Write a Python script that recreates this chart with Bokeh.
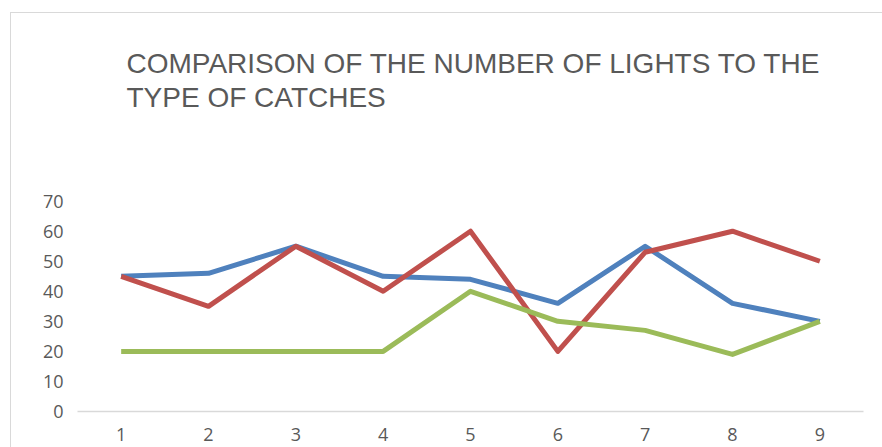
from bokeh.plotting import figure
from bokeh.models import Range1d, FixedTicker, GlobalInlineStyleSheet
from bokeh.embed import file_html
from bokeh.resources import INLINE

# ---- data ----
title_lines = ["COMPARISON OF THE NUMBER OF LIGHTS TO THE", "TYPE OF CATCHES"]
x_values = [1, 2, 3, 4, 5, 6, 7, 8, 9]
x_tick_labels = ["1", "2", "3", "4", "5", "6", "7", "8", "9"]
y_ticks = [0, 10, 20, 30, 40, 50, 60, 70]
y_tick_labels = ["0", "10", "20", "30", "40", "50", "60", "70"]
series_blue = [45, 46, 55, 45, 44, 36, 55, 36, 30]
series_red = [45, 35, 55, 40, 60, 20, 53, 60, 50]
series_green = [20, 20, 20, 20, 40, 30, 27, 19, 30]

BLUE = "#4F81BD"
RED = "#C0504D"
GREEN = "#9BBB59"
TEXT = "#595959"
AXIS = "#D9D9D9"

# the invisible frame reaches up to just under the title; the ticks stop at 70
Y_TOP = 83.2

p = figure(width=882, height=447,
           x_range=Range1d(0.5, 9.5), y_range=Range1d(0, Y_TOP),
           min_border_left=77, min_border_right=19,
           min_border_top=0, min_border_bottom=36,
           output_backend="svg", toolbar_location=None)
p.grid.visible = False
p.outline_line_color = None

# page-level: no scrollbars, faint chart-area border
p.stylesheets = [GlobalInlineStyleSheet(css=(
    "html, body { overflow: hidden; }"
    "body::after { content: ''; position: fixed; left: 10px; top: 12px;"
    " width: 2000px; height: 2000px; border: 1px solid #D9D9D9;"
    " pointer-events: none; }"))]

# title
p.title.text = "\n".join(title_lines)
p.title.align = "left"
p.title.vertical_align = "top"
p.title.offset = 49
p.title.standoff = 94
p.title.text_font = "Liberation Sans"
p.title.text_font_size = "28px"
p.title.text_font_style = "normal"
p.title.text_color = TEXT
p.title.text_line_height = 1.1

for ys, c in [(series_blue, BLUE), (series_red, RED), (series_green, GREEN)]:
    p.line(x_values, ys, line_color=c, line_width=5, line_join="round")

# x axis
xa = p.xaxis[0]
xa.ticker = FixedTicker(ticks=x_values)
xa.major_label_overrides = {v: s for v, s in zip(x_values, x_tick_labels)}
xa.axis_line_color = AXIS
xa.axis_line_width = 1.3
xa.major_tick_line_color = None
xa.minor_tick_line_color = None
xa.major_tick_out = 0
xa.minor_tick_out = 0
xa.major_label_standoff = 16
xa.major_label_text_font = "Open Sans"
xa.major_label_text_font_size = "18px"
xa.major_label_text_color = TEXT

# y axis
ya = p.yaxis[0]
ya.ticker = FixedTicker(ticks=y_ticks)
ya.major_label_overrides = {v: s for v, s in zip(y_ticks, y_tick_labels)}
ya.axis_line_color = None
ya.major_tick_line_color = None
ya.minor_tick_line_color = None
ya.major_tick_out = 0
ya.minor_tick_out = 0
ya.major_label_standoff = 14
ya.major_label_text_font = "Open Sans"
ya.major_label_text_font_size = "18px"
ya.major_label_text_color = TEXT

open("out.html", "w").write(file_html(p, INLINE))
